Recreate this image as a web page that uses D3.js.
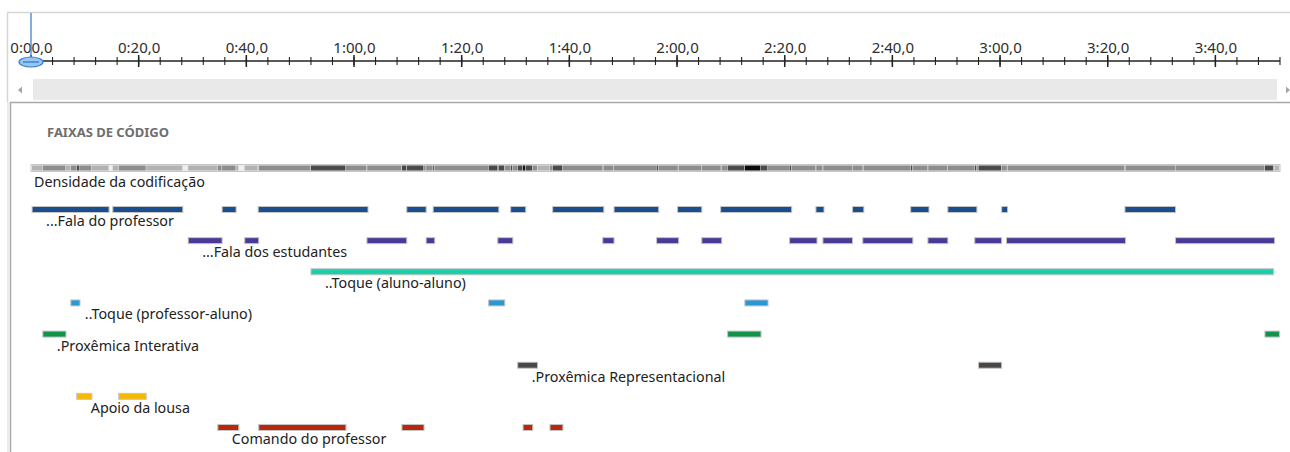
<!DOCTYPE html>
<html>
<head>
<meta charset="utf-8">
<script src="https://cdn.jsdelivr.net/npm/d3@7"></script>
<style>
  html, body { margin: 0; padding: 0; background: #fff; }
  svg { display: block; font-family: "Noto Sans", sans-serif; }
</style>
</head>
<body>
<div id="chart"></div>
<script>
// time in seconds
var timeDomain = [0, 232];
var majorTicks = d3.range(0, 232, 20);
var minorTicks = d3.range(0, 233, 4);

var codeNames = ["...Fala do professor", "...Fala dos estudantes", "..Toque (aluno-aluno)",
    "..Toque (professor-aluno)", ".Proxêmica Interativa", ".Proxêmica Representacional",
    "Apoio da lousa", "Comando do professor"];
var codeColors = ["#1a4f8f", "#4b3996", "#1ccfa9", "#2a98d4", "#13924a", "#4b4744", "#f6b800", "#b9280c"];

var falaProfessor = [[0.2,14.5],[15.2,28.2],[35.5,38.1],[42.2,62.6],[69.8,73.4],[74.7,86.9],[89.1,91.9],
    [96.9,106.4],[108.3,116.6],[120.1,124.6],[128.1,141.3],[145.8,147.3],[152.6,154.7],[163.4,166.8],
    [170.3,175.7],[180.3,181.4],[203.2,212.6]];
var falaEstudantes = [[29.2,35.5],[39.7,42.3],[62.4,69.8],[73.4,75.0],[86.7,89.5],[106.2,108.3],
    [116.2,120.3],[124.6,128.3],[140.9,146.0],[147.1,152.6],[154.5,163.8],[166.6,170.3],[175.3,180.3],
    [181.2,203.3],[212.6,231.0]];
var toqueAlunoAluno = [[52.0,230.8]];
var toqueProfAluno = [[7.4,9.1],[85.0,88.0],[132.6,136.9]];
var proxInterativa = [[2.2,6.5],[129.4,135.6],[229.2,231.9]];
var proxRepresentacional = [[90.4,94.1],[176.0,180.3]];
var apoioLousa = [[8.5,11.3],[16.3,21.4]];
var comandoProfessor = [[34.7,38.6],[42.3,58.5],[68.9,73.0],[91.4,93.2],[96.4,98.8]];

var codeSegments = [falaProfessor, falaEstudantes, toqueAlunoAluno, toqueProfAluno,
    proxInterativa, proxRepresentacional, apoioLousa, comandoProfessor];

var densityColors = ["#eeeeee", "#b3b3b3", "#8d8d8d", "#4a4a4a", "#0c0c0c"];

createChart();

function fmt(s) {
    var m = Math.floor(s / 60), sec = s % 60;
    return m + ":" + (sec < 10 ? "0" : "") + sec + ",0";
}

function createChart() {
    var W = 1290, H = 452;

    var svg = d3.select("#chart").append("svg")
        .attr("width", W)
        .attr("height", H);

    var x = d3.scaleLinear().domain(timeDomain).range([31, 1280]);
    var y = d3.scalePoint().domain(codeNames).range([206, 424]);

    // frame
    svg.append("path")
        .attr("d", "M7.5,102 V12.5 H1290")
        .attr("fill", "none").attr("stroke", "#d6d6d6").attr("stroke-width", 1.5);

    // time ruler
    var axisY = 61;
    svg.append("line")
        .attr("x1", x(0)).attr("x2", x(timeDomain[1]))
        .attr("y1", axisY).attr("y2", axisY)
        .attr("stroke", "#222").attr("stroke-width", 1.5);

    svg.selectAll(".minor").data(minorTicks).enter().append("line")
        .attr("class", "minor")
        .attr("x1", function(d) { return x(d); }).attr("x2", function(d) { return x(d); })
        .attr("y1", axisY - 4).attr("y2", axisY + 4)
        .attr("stroke", "#222").attr("stroke-width", 1.1);

    svg.selectAll(".major").data(majorTicks).enter().append("line")
        .attr("class", "major")
        .attr("x1", function(d) { return x(d); }).attr("x2", function(d) { return x(d); })
        .attr("y1", axisY - 6).attr("y2", axisY + 6)
        .attr("stroke", "#222").attr("stroke-width", 1.5);

    var ax = svg.append("g")
        .attr("transform", "translate(0," + (axisY - 7) + ")")
        .call(d3.axisTop(x).tickValues(majorTicks).tickFormat(fmt).tickSize(0).tickPadding(1));
    ax.select(".domain").remove();
    ax.selectAll("text")
        .attr("font-family", "Noto Sans, sans-serif")
        .attr("font-size", 15)
        .attr("fill", "#2e2e2e");

    // playhead
    svg.append("line")
        .attr("x1", x(0)).attr("x2", x(0)).attr("y1", 13).attr("y2", 58)
        .attr("stroke", "#3d82c9").attr("stroke-width", 1.3);
    svg.append("ellipse")
        .attr("cx", x(0)).attr("cy", axisY + 1).attr("rx", 12).attr("ry", 5)
        .attr("fill", "#98c6f2").attr("stroke", "#3a7fd0").attr("stroke-width", 1.2);
    svg.append("line")
        .attr("x1", x(0) - 8).attr("x2", x(0) + 8).attr("y1", axisY + 1).attr("y2", axisY + 1)
        .attr("stroke", "#3a7fd0").attr("stroke-width", 1.4);

    // scrollbar
    svg.append("rect")
        .attr("x", 33).attr("y", 79).attr("width", 1244).attr("height", 21)
        .attr("fill", "#e9e9e9");
    svg.append("path").attr("d", "M18,90 L22,86.5 L22,93.5 Z").attr("fill", "#a5a5a5");
    svg.append("path").attr("d", "M1290,90 L1286,86.5 L1286,93.5 Z").attr("fill", "#a5a5a5");

    // panel
    svg.append("path")
        .attr("d", "M10.5," + H + " V102.5 H1290")
        .attr("fill", "none").attr("stroke", "#a9a9a9").attr("stroke-width", 1.5);
    svg.append("line")
        .attr("x1", 8).attr("x2", 8).attr("y1", 102).attr("y2", H)
        .attr("stroke", "#d8d8d8").attr("stroke-width", 1);

    svg.append("text")
        .attr("x", 47).attr("y", 137)
        .attr("font-size", 13).attr("font-weight", "bold")
        .attr("fill", "#6e6e6e")
        .text("FAIXAS DE CÓDIGO");

    // coding density
    var bounds = [];
    codeSegments.forEach(function(segs) {
        segs.forEach(function(s) { bounds.push(s[0], s[1]); });
    });
    bounds.push(timeDomain[0], timeDomain[1]);
    bounds = Array.from(new Set(bounds)).sort(d3.ascending);
    var density = [];
    for (var i = 0; i < bounds.length - 1; i++) {
        var mid = (bounds[i] + bounds[i + 1]) / 2;
        var n = 0;
        codeSegments.forEach(function(segs) {
            if (segs.some(function(s) { return s[0] <= mid && mid < s[1]; })) n++;
        });
        density.push({start: bounds[i], end: bounds[i + 1], n: n});
    }

    svg.append("rect")
        .attr("x", x(0)).attr("y", 164.5)
        .attr("width", x(timeDomain[1]) - x(0)).attr("height", 7)
        .attr("fill", "#e6e6e6").attr("stroke", "#c8c8c8").attr("stroke-width", 1);
    svg.selectAll(".dens").data(density).enter().append("rect")
        .attr("class", "dens")
        .attr("x", function(d) { return x(d.start); })
        .attr("width", function(d) { return Math.max(0, x(d.end) - x(d.start) - 0.6); })
        .attr("y", 165.5).attr("height", 5)
        .attr("fill", function(d) { return densityColors[Math.min(d.n, 4)]; });

    svg.append("text")
        .attr("x", 34).attr("y", 187)
        .attr("font-size", 14.3).attr("fill", "#222")
        .text("Densidade da codificação");

    // code stripes
    codeNames.forEach(function(name, ci) {
        var g = svg.append("g");
        g.selectAll("rect").data(codeSegments[ci]).enter().append("rect")
            .attr("x", function(d) { return x(d[0]); })
            .attr("y", y(name) + 0.5)
            .attr("width", function(d) { return x(d[1]) - x(d[0]); })
            .attr("height", 6)
            .attr("fill", codeColors[ci])
            .attr("stroke", "#c4c4c4").attr("stroke-width", 1);
        g.append("text")
            .attr("x", x(codeSegments[ci][0][0]) + 14)
            .attr("y", y(name) + 20)
            .attr("font-size", 14.3).attr("fill", "#222")
            .text(name);
    });
}
</script>
</body>
</html>
